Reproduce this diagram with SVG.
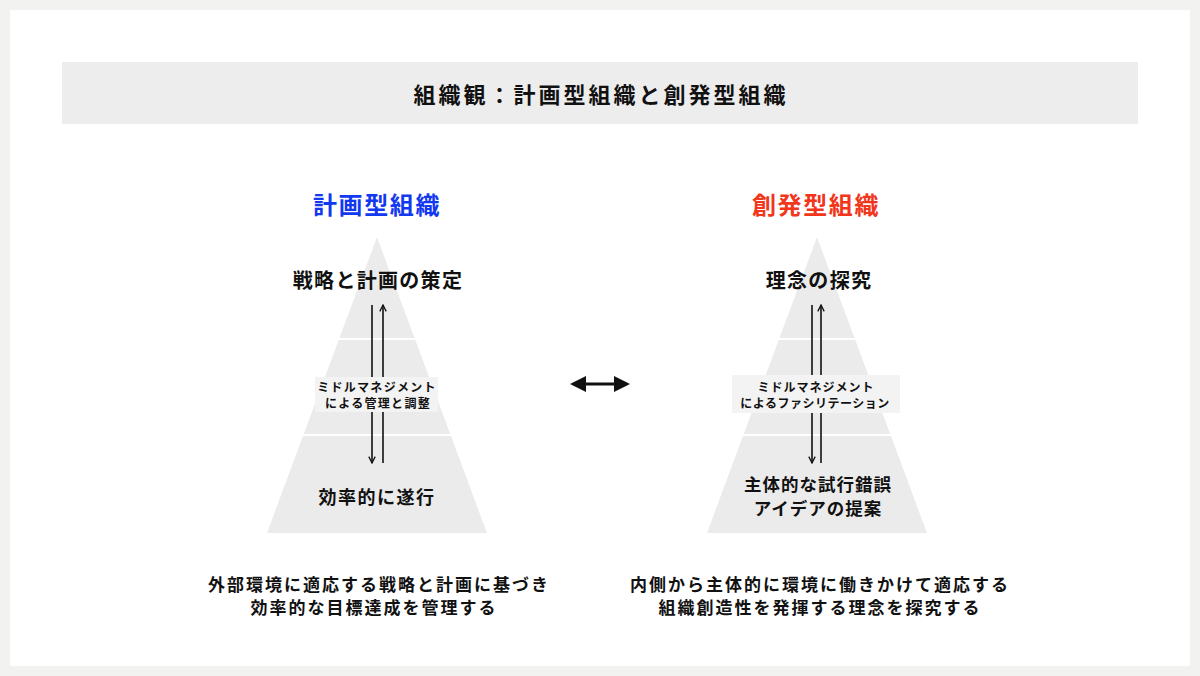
<svg xmlns="http://www.w3.org/2000/svg" width="1200" height="676" viewBox="0 0 1200 676">
  <defs>
    <style>
      .t{font-family:"Noto Sans CJK JP","Noto Sans CJK SC",sans-serif;font-weight:700;text-anchor:middle;fill:#111}
      .tier{fill:#ebebeb}
      .lbl{fill:#f3f3f3}
      .ln{stroke:#111;stroke-width:1.6;fill:none}
    </style>
    <marker id="open" viewBox="0 0 10 10" refX="9" refY="5" markerWidth="8" markerHeight="8" markerUnits="userSpaceOnUse" orient="auto">
      <path d="M1,1 L9,5 L1,9" fill="none" stroke="#111" stroke-width="1.6"/>
    </marker>
  </defs>
  <rect x="0" y="0" width="1200" height="676" fill="#f2f2f0"/>
  <rect x="10" y="10" width="1180" height="656" fill="#ffffff"/>

  <g id="header">
    <rect x="62" y="62" width="1076" height="62" fill="#eeeded"/>
    <text class="t" x="601" y="103" font-size="22" letter-spacing="3">組織観：計画型組織と創発型組織</text>
  </g>

  <g id="left-title">
    <text class="t" x="377" y="214" font-size="24" letter-spacing="1.6" style="fill:#1238f0">計画型組織</text>
  </g>
  <g id="right-title">
    <text class="t" x="816" y="214" font-size="24" letter-spacing="1.6" style="fill:#f2361c">創発型組織</text>
  </g>

  <g id="left-top">
    <polygon class="tier" points="377,237 414.5,338 339.5,338"/>
    <text class="t" x="378" y="288" font-size="20" letter-spacing="1.3">戦略と計画の策定</text>
  </g>
  <g id="left-middle">
    <polygon class="tier" points="338.7,340 415.3,340 450.2,434 303.8,434"/>
  </g>
  <g id="left-bottom">
    <polygon class="tier" points="303,436 451,436 487,533 267,533"/>
    <text class="t" x="377" y="504" font-size="18" letter-spacing="1.5">効率的に遂行</text>
  </g>

  <g id="right-top">
    <polygon class="tier" points="817,237 854.5,338 779.5,338"/>
    <text class="t" x="819" y="288" font-size="20" letter-spacing="1.3">理念の探究</text>
  </g>
  <g id="right-middle">
    <polygon class="tier" points="778.7,340 855.3,340 890.2,434 743.8,434"/>
  </g>
  <g id="right-bottom">
    <polygon class="tier" points="743,436 891,436 927,533 707,533"/>
    <text class="t" x="818" y="491" font-size="17.5" letter-spacing="1">主体的な試行錯誤</text>
    <text class="t" x="818" y="515" font-size="17.5" letter-spacing="1">アイデアの提案</text>
  </g>

  <g id="connectors">
    <line class="ln" x1="372" y1="305" x2="372" y2="463" marker-end="url(#open)"/>
    <line class="ln" x1="383" y1="463" x2="383" y2="305" marker-end="url(#open)"/>
    <line class="ln" x1="812" y1="305" x2="812" y2="463" marker-end="url(#open)"/>
    <line class="ln" x1="821" y1="463" x2="821" y2="305" marker-end="url(#open)"/>
    <g id="compare-arrow">
      <line x1="584" y1="384" x2="616" y2="384" stroke="#111" stroke-width="3"/>
      <polygon points="570,384 586,376 586,392" fill="#111"/>
      <polygon points="630,384 614,376 614,392" fill="#111"/>
    </g>
  </g>

  <g id="left-label">
    <rect class="lbl" x="315" y="377" width="123" height="35"/>
    <text class="t" x="377" y="391.5" font-size="12" letter-spacing="1.3">ミドルマネジメント</text>
    <text class="t" x="378" y="407.5" font-size="12" letter-spacing="1.3">による管理と調整</text>
  </g>
  <g id="right-label">
    <rect class="lbl" x="732" y="375" width="168" height="38"/>
    <text class="t" x="816" y="391.5" font-size="12" letter-spacing="1">ミドルマネジメント</text>
    <text class="t" x="815" y="407.5" font-size="12" letter-spacing="0.5">によるファシリテーション</text>
  </g>

  <g id="left-desc">
    <text class="t" x="379" y="591" font-size="17" letter-spacing="2">外部環境に適応する戦略と計画に基づき</text>
    <text class="t" x="374" y="614" font-size="17" letter-spacing="2">効率的な目標達成を管理する</text>
  </g>
  <g id="right-desc">
    <text class="t" x="820" y="591" font-size="17" letter-spacing="2">内側から主体的に環境に働きかけて適応する</text>
    <text class="t" x="820" y="614" font-size="17" letter-spacing="2">組織創造性を発揮する理念を探究する</text>
  </g>
</svg>
